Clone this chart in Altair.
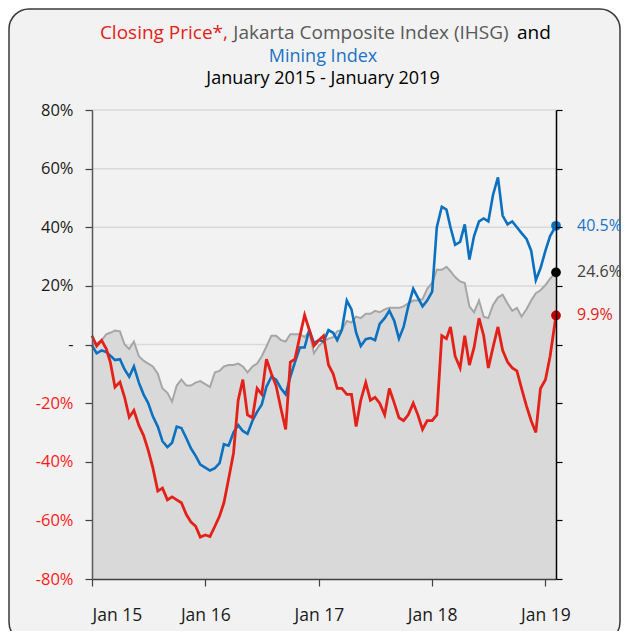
import altair as alt
import pandas as pd

# ---- data (semi-monthly readings, % change since Jan 2015) ----
dates = []
for yr in range(2015, 2020):
    for mo in range(1, 13):
        if yr == 2019 and mo > 1:
            break
        dates += [f"{yr}-{mo:02d}-01T00:00:00", f"{yr}-{mo:02d}-16T00:00:00"]
dates.append("2019-02-04T00:00:00")

closing = [
    3, -0.5, 1.4, -1.5, -6, -14.5, -12.8, -18, -24.8, -22.5, -27.6, -31,
    -36, -42, -50, -49, -53, -52, -53, -54, -58, -60.6, -62, -65.7,
    -65, -65.5, -62, -58.5, -54, -46, -37, -19, -12, -24, -25, -15,
    -17, -5, -10, -14, -22, -29, -6, -5, 3, 10, 5, -0.5,
    1.5, 3, -7, -10, -15, -15, -17, -17, -28, -19, -13, -19,
    -18, -20, -24, -15, -20, -25, -26, -24, -20, -24, -29, -26,
    -26, -24, 3, 2, 6, -4, -8, 3, -7, -1, 9, 3,
    -8, -1, 6, -2, -6, -8, -9, -15, -21, -26, -30, -15,
    -12, -4, 9.9,
]
ihsg = [
    0, 0.5, 1.4, 3.5, 4, 4.8, 4.5, 0, -1.5, 1, -4, -5.5,
    -6.5, -7.5, -10, -15, -16.5, -19.5, -14, -12, -14, -14, -13, -12.5,
    -13.5, -14.5, -9.5, -9, -7.5, -7, -7, -6.5, -7.5, -9.5, -7.5, -6.5,
    -4, -0.7, 3, 3, 1.5, 1, 3.5, 3.5, 3.5, 2.5, 4.5, -3,
    -0.5, 1, 2, 2.5, 4.5, 5, 8, 7.5, 9.5, 9, 10.5, 10.5,
    11.5, 11, 12, 12.5, 12.5, 12.5, 13, 14, 15, 15, 15.5, 19,
    21, 25.5, 25.5, 26.5, 25, 23, 21.5, 21, 13, 11, 15, 9.5,
    9, 13.5, 16, 17, 14, 11.5, 12.5, 9.5, 12, 15, 17.5, 18.5,
    20.3, 22.5, 24.6,
]
mining = [
    -0.3, -3, -2, -2.6, -3.8, -5.3, -5, -8.5, -11, -7.5, -13, -17,
    -20, -24.5, -28, -33, -35, -33.5, -28, -28.5, -32, -35.5, -38, -41,
    -42, -43, -42.2, -40.5, -34, -34.5, -30, -27.5, -29.5, -30.5, -26, -23,
    -20.5, -14.4, -11, -12, -15, -17, -11, -6, -1, -1, 5, 0.5,
    1.5, 1, 4.9, 4, 1.5, 5, 15, 12, 4, -0.5, 1.8, 2.2,
    1.5, 7, 9, 11.5, 8, 2, 6, 13, 19, 16, 13, 15,
    18, 40, 47, 46, 40, 34, 35, 41, 29, 37, 42, 43,
    42, 51, 57, 44, 41, 42, 40, 38, 36, 32, 22, 26,
    32, 37, 40.5,
]

y_ticks = [-80, -60, -40, -20, 0, 20, 40, 60, 80]
x_tick_years = [2015, 2016, 2017, 2018, 2019]

df = pd.DataFrame({"date": dates, "Closing": closing, "IHSG": ihsg, "Mining": mining})

end_df = pd.DataFrame({
    "date": [dates[-1]] * 3,
    "val": [mining[-1], ihsg[-1], closing[-1]],
    "dot": ["#0a70c0", "#000000", "#c00000"],
    "tcol": ["#1a74c4", "#404040", "#e32119"],
})
end_df["txt"] = end_df["val"].map(lambda v: f"{v:.1f}%")

FONT = "Open Sans"
W, H = 464, 469

xscale = alt.Scale(domain=[alt.DateTime(year=2015, month=1, date=1),
                           alt.DateTime(year=2019, month=2, date=4)])
yscale = alt.Scale(domain=[-80, 80], nice=False)

x_axis = alt.Axis(
    values=[alt.DateTime(year=y, month=1, date=1) for y in x_tick_years],
    labelExpr="'Jan ' + timeFormat(datum.value, '%y')",
    title=None, grid=False, domainColor="#404040", domainWidth=1.5,
    tickColor="#404040", tickSize=7, tickWidth=1.2, labelPadding=20,
    labelFont=FONT, labelFontSize=17.5, labelColor="#1a1a1a", zindex=1,
)
y_axis = alt.Axis(
    values=y_ticks,
    labelExpr="datum.value == 0 ? '-' : datum.value + '%'",
    labelColor={"condition": {"test": "datum.value < 0", "value": "#ff1a1a"},
                "value": "#1a1a1a"},
    title=None, grid=False, domainColor="#595959", domainWidth=1.5,
    tickColor="#404040", tickSize=7, tickWidth=1.2, labelPadding=12,
    labelFont=FONT, labelFontSize=16.5, zindex=1,
)

X = alt.X("date:T", scale=xscale, axis=x_axis)

# frame (rounded panel)
frame = alt.Chart(pd.DataFrame({"a": [0]})).mark_rect(
    fill="#f2f2f2", stroke="#3a3a3a", strokeWidth=1.5, cornerRadius=20
).encode(x=alt.value(-83), x2=alt.value(528), y=alt.value(-101), y2=alt.value(532))

# gridlines + right axis
grid = alt.Chart(pd.DataFrame({"v": y_ticks})).mark_rule(
    color="#d9d9d9", strokeWidth=1.5
).encode(
    y=alt.Y("v:Q", scale=yscale, axis=alt.Axis(
        orient="right", values=y_ticks, labels=False, title=None, grid=False,
        domainColor="#000000", domainWidth=1.5, tickColor="#000000",
        tickSize=6, tickWidth=1.2, zindex=1)),
)

base = alt.Chart(df)
area = base.mark_area(color="#d9d9d9").encode(
    x=X, y=alt.Y("IHSG:Q", scale=yscale, axis=y_axis), y2=alt.datum(-80)
)
gray_line = base.mark_line(color="#a6a6a6", strokeWidth=2).encode(
    x="date:T", y=alt.Y("IHSG:Q", scale=yscale)
)
blue_line = base.mark_line(color="#0a70c0", strokeWidth=2.6).encode(
    x="date:T", y=alt.Y("Mining:Q", scale=yscale)
)
red_line = base.mark_line(color="#e32119", strokeWidth=2.8).encode(
    x="date:T", y=alt.Y("Closing:Q", scale=yscale)
)
dots = alt.Chart(end_df).mark_circle(size=95, opacity=1).encode(
    x="date:T", y=alt.Y("val:Q", scale=yscale), color=alt.Color("dot:N", scale=None)
)
end_labels = alt.Chart(end_df).mark_text(
    align="left", baseline="middle", dx=21, font=FONT, fontSize=16
).encode(
    x="date:T", y=alt.Y("val:Q", scale=yscale),
    text="txt:N", color=alt.Color("tcol:N", scale=None)
)

one = pd.DataFrame({"a": [0]})
def ttext(txt, color, align, x, y, size=19):
    return alt.Chart(one).mark_text(
        text=txt, color=color, align=align, baseline="middle", font=FONT, fontSize=size
    ).encode(x=alt.value(x), y=alt.value(y))

titles = [
    ttext("Closing Price*,", "#e32119", "right", 136, -77),
    ttext("Jakarta Composite Index (IHSG)", "#595959", "center", 279, -77),
    ttext("and", "#000000", "left", 425, -77),
    ttext("Mining Index", "#1a74c4", "center", 231, -53, 18),
    ttext("January 2015 - January 2019", "#000000", "center", 231, -31, 18),
]

main = alt.layer(area, gray_line, blue_line, red_line, dots, end_labels)

chart = alt.layer(frame, grid, main, *titles).resolve_scale(y="independent").properties(
    width=W, height=H,
    padding={"left": 84, "top": 102, "right": 65, "bottom": 52},
    autosize=alt.AutoSizeParams(type="none"),
    background="white",
).configure_view(stroke=None)

chart.save("out.html", embed_options={"renderer": "svg", "actions": False})
